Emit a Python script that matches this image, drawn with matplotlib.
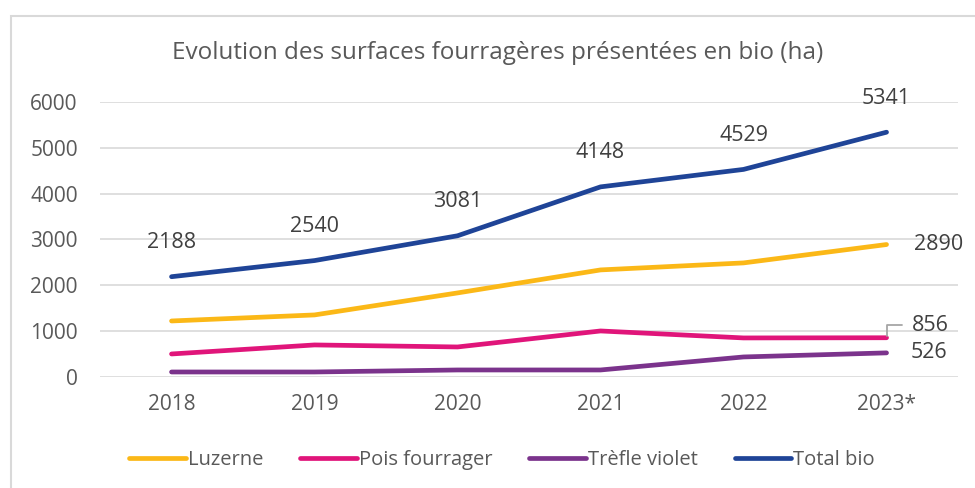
import matplotlib.pyplot as plt
from matplotlib.patches import Rectangle

plt.rcParams['font.family'] = ['Open Sans', 'DejaVu Sans']

# donnees (ha)
annees = ['2018', '2019', '2020', '2021', '2022', '2023*']
luzerne = [1222, 1354, 1834, 2336, 2489, 2890]
pois = [502, 699, 655, 1004, 852, 856]
trefle = [109, 109, 153, 153, 437, 526]
total = [2188, 2540, 3081, 4148, 4529, 5341]

grey = '#595959'
dark = '#404040'
x = list(range(len(annees)))

fig = plt.figure(figsize=(9.75, 4.88), dpi=100)
# cadre (bord haut et gauche visibles)
fig.patches.append(Rectangle((0.011, -0.1), 1.2, 1.068, transform=fig.transFigure,
                             fill=False, edgecolor='#d9d9d9', linewidth=1.5))
ax = fig.add_axes([0.1026, 0.2275, 0.880, 0.5635])

ax.plot(x, luzerne, color='#FBB817', lw=3.4, solid_capstyle='round', label='Luzerne')
ax.plot(x, pois, color='#E0157A', lw=3.4, solid_capstyle='round', label='Pois fourrager')
ax.plot(x, trefle, color='#7B338C', lw=3.4, solid_capstyle='round', label='Trèfle violet')
ax.plot(x, total, color='#1F4497', lw=3.4, solid_capstyle='round', label='Total bio')

# etiquettes
for i, v in enumerate(total):
    ax.annotate(str(v), (i, v), xytext=(0, 17), textcoords='offset points',
                ha='center', va='bottom', fontsize=15.5, color=dark)
ax.annotate(str(luzerne[-1]), (x[-1], luzerne[-1]), xytext=(20, 0), textcoords='offset points',
            ha='left', va='center', fontsize=15.5, color=dark)
ax.annotate(str(pois[-1]), (x[-1], pois[-1]), xytext=(18, 9), textcoords='offset points',
            ha='left', va='center', fontsize=15.5, color=dark,
            arrowprops=dict(arrowstyle='-', color='#a6a6a6', lw=1.3,
                            connectionstyle='angle,angleA=0,angleB=90,rad=0',
                            shrinkA=5, shrinkB=1))
ax.annotate(str(trefle[-1]), (x[-1], trefle[-1]), xytext=(17, 0), textcoords='offset points',
            ha='left', va='center', fontsize=15.5, color=dark)

ax.set_xlim(-0.5, 5.5)
ax.set_ylim(0, 6000)
ax.set_yticks(range(0, 7000, 1000))
ax.set_xticks(x)
ax.set_xticklabels(annees)
ax.tick_params(axis='both', length=0, labelsize=15, labelcolor=grey)
ax.tick_params(axis='x', pad=12)
ax.tick_params(axis='y', pad=16)
ax.grid(axis='y', color='#d9d9d9', lw=1.2)
ax.set_axisbelow(True)
for s in ax.spines.values():
    s.set_visible(False)

fig.text(0.51, 0.892, 'Evolution des surfaces fourragères présentées en bio (ha)',
         ha='center', va='center', fontsize=17.5, color=grey)

fig.legend(loc='center', bbox_to_anchor=(0.515, 0.058), ncol=4, frameon=False,
           fontsize=14.5, labelcolor=grey, handlelength=2.8, handletextpad=0.1,
           columnspacing=1.85)

fig.savefig('out.png', dpi=100)
